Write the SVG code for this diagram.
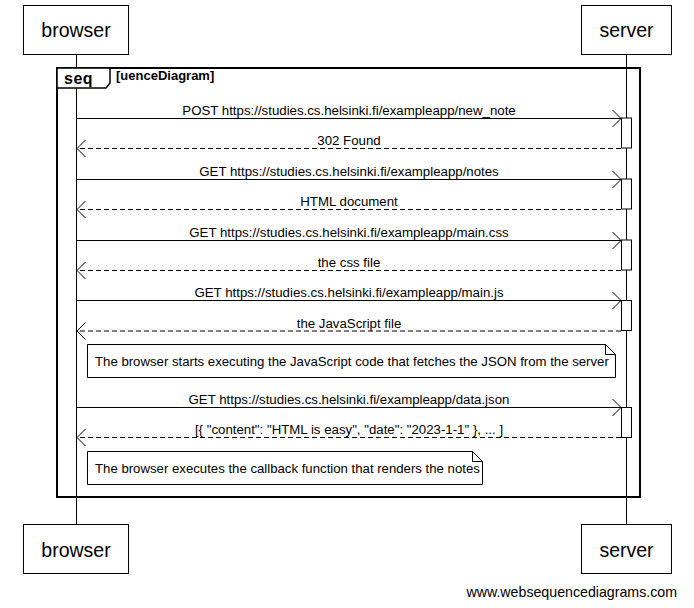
<svg xmlns="http://www.w3.org/2000/svg" width="694" height="608" viewBox="0 0 694 608">
<style>
  .box { fill: #fff; stroke: #000; stroke-width: 1; }
  .pname { font-family: "Liberation Sans", Arial, sans-serif; font-size: 19.5px; fill: #000; text-anchor: middle; }
  .life { stroke: #000; stroke-width: 1; }
  .msg { stroke: #000; stroke-width: 1; fill: none; }
  .ret { stroke: #000; stroke-width: 1; fill: none; stroke-dasharray: 5,3; }
  .head { stroke: #000; stroke-width: 1; fill: none; }
  .lbl { font-family: "Liberation Sans", Arial, sans-serif; font-size: 13.25px; fill: #000; text-anchor: middle; }
  .note { fill: #fff; stroke: #000; stroke-width: 1; }
  .ntext { font-family: "Liberation Sans", Arial, sans-serif; font-size: 13.2px; fill: #000; }
  .act { fill: #fff; stroke: #000; stroke-width: 1; }
</style>
<rect x="0" y="0" width="694" height="608" fill="#fff"/>

<g id="lifelines">
  <line class="life" x1="76.5" y1="54" x2="76.5" y2="524"/>
  <line class="life" x1="626.5" y1="54" x2="626.5" y2="524"/>
</g>

<g id="frame">
  <rect x="57" y="68" width="583" height="429" fill="none" stroke="#000" stroke-width="2"/>
  <path d="M57,68 H110 V83 L106,88 H57 Z" fill="#fff" stroke="#000" stroke-width="1.5"/>
  <text x="64" y="83.5" font-family="'Liberation Sans', Arial, sans-serif" font-size="16" font-weight="bold" letter-spacing="0.5">seq</text>
  <text x="116" y="79.5" font-family="'Liberation Sans', Arial, sans-serif" font-size="13" font-weight="bold">[uenceDiagram]</text>
</g>

<g id="browser-top">
  <rect class="box" x="23.5" y="5.5" width="105" height="49"/>
  <text class="pname" x="76" y="37">browser</text>
</g>
<g id="server-top">
  <rect class="box" x="581.5" y="5.5" width="90" height="49"/>
  <text class="pname" x="626.5" y="37">server</text>
</g>
<g id="browser-bottom">
  <rect class="box" x="23.5" y="524.5" width="105" height="49"/>
  <text class="pname" x="76" y="557">browser</text>
</g>
<g id="server-bottom">
  <rect class="box" x="581.5" y="524.5" width="90" height="49"/>
  <text class="pname" x="626.5" y="557">server</text>
</g>

<g id="activations">
  <rect class="act" x="621.5" y="118" width="10" height="30"/>
  <rect class="act" x="621.5" y="179" width="10" height="30"/>
  <rect class="act" x="621.5" y="240" width="10" height="30"/>
  <rect class="act" x="621.5" y="300.5" width="10" height="30"/>
  <rect class="act" x="621.5" y="407.5" width="10" height="30"/>
</g>

<g id="connectors">
  <line class="msg" x1="76.5" y1="118.5" x2="621" y2="118.5"/>
  <polyline class="head" points="612.5,110 621,118.5 612.5,127"/>
  <text class="lbl" x="349" y="114.5">POST https://studies.cs.helsinki.fi/exampleapp/new_note</text>

  <line class="ret" x1="621" y1="148.5" x2="77" y2="148.5"/>
  <polyline class="head" points="85.5,140 77,148.5 85.5,157"/>
  <text class="lbl" x="349" y="145">302 Found</text>

  <line class="msg" x1="76.5" y1="179.5" x2="621" y2="179.5"/>
  <polyline class="head" points="612.5,171 621,179.5 612.5,188"/>
  <text class="lbl" x="349" y="175.5">GET https://studies.cs.helsinki.fi/exampleapp/notes</text>

  <line class="ret" x1="621" y1="209.5" x2="77" y2="209.5"/>
  <polyline class="head" points="85.5,201 77,209.5 85.5,218"/>
  <text class="lbl" x="349" y="206">HTML document</text>

  <line class="msg" x1="76.5" y1="240.5" x2="621" y2="240.5"/>
  <polyline class="head" points="612.5,232 621,240.5 612.5,249"/>
  <text class="lbl" x="349" y="236.5">GET https://studies.cs.helsinki.fi/exampleapp/main.css</text>

  <line class="ret" x1="621" y1="270.5" x2="77" y2="270.5"/>
  <polyline class="head" points="85.5,262 77,270.5 85.5,279"/>
  <text class="lbl" x="349" y="267">the css file</text>

  <line class="msg" x1="76.5" y1="300.5" x2="621" y2="300.5"/>
  <polyline class="head" points="612.5,292 621,300.5 612.5,309"/>
  <text class="lbl" x="349" y="296.5">GET https://studies.cs.helsinki.fi/exampleapp/main.js</text>

  <line class="ret" x1="621" y1="331" x2="77" y2="331"/>
  <polyline class="head" points="85.5,322.5 77,331 85.5,339.5"/>
  <text class="lbl" x="349" y="327.5">the JavaScript file</text>

  <line class="msg" x1="76.5" y1="407.5" x2="621" y2="407.5"/>
  <polyline class="head" points="612.5,399 621,407.5 612.5,416"/>
  <text class="lbl" x="349" y="403.5">GET https://studies.cs.helsinki.fi/exampleapp/data.json</text>

  <line class="ret" x1="621" y1="437.5" x2="77" y2="437.5"/>
  <polyline class="head" points="85.5,429 77,437.5 85.5,446"/>
  <text class="lbl" x="349" y="434">[{ "content": "HTML is easy", "date": "2023-1-1" }, ... ]</text>
</g>

<g id="note1">
  <path class="note" d="M87.5,344.5 H605.5 L615.5,354.5 V377.5 H87.5 Z"/>
  <path d="M605.5,344.5 V354.5 H615.5" fill="none" stroke="#000" stroke-width="1"/>
  <text class="ntext" x="95" y="366">The browser starts executing the JavaScript code that fetches the JSON from the server</text>
</g>

<g id="note2">
  <path class="note" d="M87.5,451.5 H472.5 L482.5,461.5 V484.5 H87.5 Z"/>
  <path d="M472.5,451.5 V461.5 H482.5" fill="none" stroke="#000" stroke-width="1"/>
  <text class="ntext" x="95" y="472.5">The browser executes the callback function that renders the notes</text>
</g>

<text x="677" y="597" font-family="'Liberation Sans', Arial, sans-serif" font-size="14.2" text-anchor="end" fill="#000">www.websequencediagrams.com</text>
</svg>
